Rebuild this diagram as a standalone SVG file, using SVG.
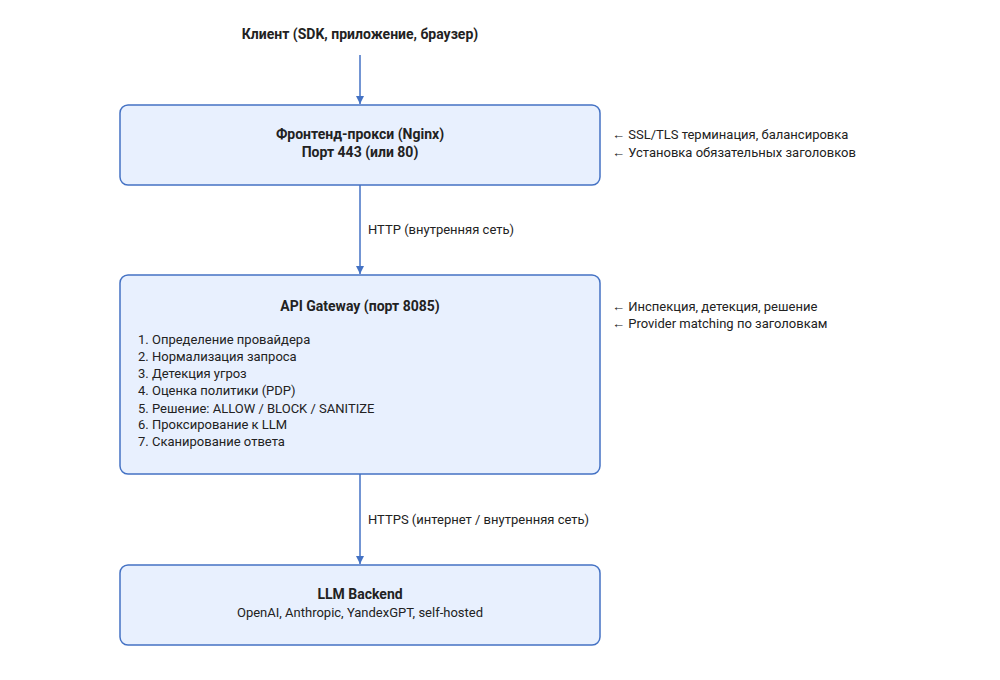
<svg xmlns="http://www.w3.org/2000/svg" width="1000" height="680" viewBox="0 0 1000 680">
<defs>
<marker id="ah" markerWidth="10" markerHeight="10" refX="8" refY="5" orient="auto" markerUnits="userSpaceOnUse"><path d="M0,1 L8,5 L0,9 Z" fill="#4472c4"/></marker>
<style>
text{font-family:Roboto,"Liberation Sans",sans-serif;fill:#222;font-size:13px}
.b{font-weight:bold;font-size:14px}
.box{fill:#e8f0fe;stroke:#4472c4;stroke-width:1.5}
.c{text-anchor:middle}
.ln{stroke:#4472c4;stroke-width:1.5;fill:none}
</style>
</defs>
<rect width="1000" height="680" fill="#fff"/>
<g id="client"><text class="b c" x="360" y="39">Клиент (SDK, приложение, браузер)</text></g>
<g id="connectors">
<line class="ln" x1="360" y1="55" x2="360" y2="104" marker-end="url(#ah)"/>
<line class="ln" x1="360" y1="185" x2="360" y2="274" marker-end="url(#ah)"/>
<line class="ln" x1="360" y1="474" x2="360" y2="564" marker-end="url(#ah)"/>
<text x="368" y="234">HTTP (внутренняя сеть)</text>
<text x="368" y="524">HTTPS (интернет / внутренняя сеть)</text>
</g>
<g id="frontend">
<rect class="box" x="120" y="105" width="480" height="80" rx="8"/>
<text class="b c" x="360" y="139">Фронтенд-прокси (Nginx)</text>
<text class="b c" x="360" y="157">Порт 443 (или 80)</text>
<text x="612" y="139">← SSL/TLS терминация, балансировка</text>
<text x="612" y="157">← Установка обязательных заголовков</text>
</g>
<g id="gateway">
<rect class="box" x="120" y="275" width="480" height="199" rx="8"/>
<text class="b c" x="360" y="311">API Gateway (порт 8085)</text>
<text x="138" y="344">1. Определение провайдера</text>
<text x="138" y="361">2. Нормализация запроса</text>
<text x="138" y="378">3. Детекция угроз</text>
<text x="138" y="395">4. Оценка политики (PDP)</text>
<text x="138" y="413">5. Решение: ALLOW / BLOCK / SANITIZE</text>
<text x="138" y="429">6. Проксирование к LLM</text>
<text x="138" y="446">7. Сканирование ответа</text>
<text x="612" y="311">← Инспекция, детекция, решение</text>
<text x="612" y="328">← Provider matching по заголовкам</text>
</g>
<g id="llm">
<rect class="box" x="120" y="565" width="480" height="80" rx="8"/>
<text class="b c" x="360" y="599">LLM Backend</text>
<text class="c" x="360" y="617">OpenAI, Anthropic, YandexGPT, self-hosted</text>
</g>
</svg>
